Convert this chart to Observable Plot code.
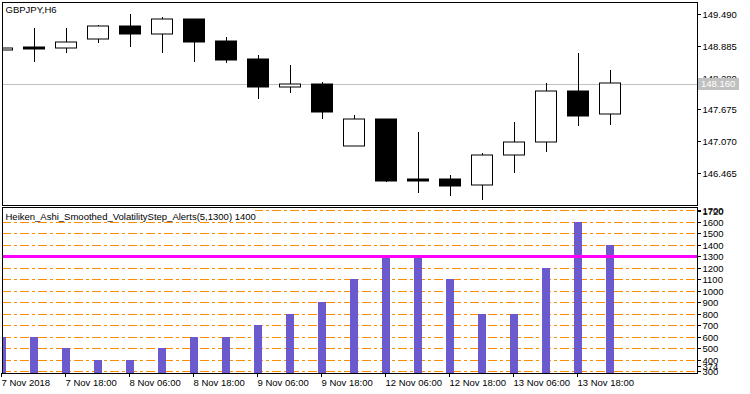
<!DOCTYPE html>
<html><head><meta charset="utf-8">
<script src="https://cdn.jsdelivr.net/npm/d3@7"></script>
<script src="https://cdn.jsdelivr.net/npm/@observablehq/plot@0.6"></script>
<style>
body{margin:0;background:#fff;}
#chart{position:relative;width:750px;height:394px;overflow:hidden;background:#fff;}
#chart svg{position:absolute;left:0;}
</style></head><body><div id="chart"></div>
<script>
// ---- data ----
const symbolTitle = "GBPJPY,H6";
const indicatorTitle = "Heiken_Ashi_Smoothed_VolatilityStep_Alerts(5,1300) 1400";
const barIndex = [0,1,2,3,4,5,6,7,8,9,10,11,12,13,14,15,16,17,18,19];
const haOpen  = [148.80,148.86,148.85,149.01,149.26,149.10,149.40,148.97,148.63,148.11,148.16,146.97,147.49,146.36,146.35,146.23,146.80,147.05,148.03,147.58];
const haHigh  = [148.86,149.22,149.22,149.28,149.49,149.44,149.40,149.05,148.71,148.52,148.20,147.57,147.49,147.25,146.43,146.85,147.43,148.18,148.74,148.43];
const haLow   = [148.79,148.58,148.75,148.94,148.87,148.75,148.58,148.55,147.87,147.99,147.49,146.97,146.30,146.08,146.03,145.95,146.47,146.87,147.35,147.38];
const haClose = [148.85,148.83,148.96,149.26,149.10,149.40,148.96,148.61,148.11,148.16,147.63,147.49,146.32,146.32,146.22,146.80,147.05,148.03,147.55,148.18];
const volatilityStep = [600,600,500,400,400,500,600,600,700,800,900,1100,1300,1300,1100,800,800,1200,1600,1400];
const timeTicks  = [0,2,4,6,8,10,12,14,16,18];
const timeLabels = ["7 Nov 2018","7 Nov 18:00","8 Nov 06:00","8 Nov 18:00","9 Nov 06:00","9 Nov 18:00","12 Nov 06:00","12 Nov 18:00","13 Nov 06:00","13 Nov 18:00"];
const priceTicks = [149.490,148.885,148.280,147.675,147.070,146.465];
const lastPrice = 148.160;
const levelTicks = [1700,1600,1500,1400,1300,1200,1100,1000,900,800,700,600,500,400,300];
const extremeTicks = [1720,374];
const signalLevel = 1300;

// ---- layout ----
const W = 750, mL = 2, mR = 53;
const xMax = (W - mL - mR) / 32;
const FONT = "font-family:'Liberation Sans',Arial,sans-serif;font-size:9.5px;background:transparent;overflow:visible;color:#000;";
const candles = barIndex.map((i, k) => ({i, open: haOpen[k], high: haHigh[k], low: haLow[k], close: haClose[k], up: haClose[k] >= haOpen[k]}));
const bars = barIndex.map((i, k) => ({i, v: volatilityStep[k]}));
const halfBody = 10.5 / 32, halfBar = 4 / 32;
const intFmt = d => String(d);

const pricePanel = Plot.plot({
  width: W, height: 206,
  marginLeft: mL, marginRight: mR, marginTop: 2, marginBottom: 1,
  style: FONT,
  x: {domain: [0, xMax], axis: null},
  y: {domain: [145.856, 149.718], axis: null, round: true},
  marks: [
    Plot.ruleY([lastPrice], {stroke: "#c0c0c0"}),
    Plot.ruleX(candles, {x: "i", y1: "low", y2: "high", stroke: "#000", clip: true}),
    Plot.rect(candles, {
      x1: d => d.i - halfBody, x2: d => d.i + halfBody,
      y1: d => Math.min(d.open, d.close), y2: d => Math.max(d.open, d.close),
      fill: d => d.up ? "#fff" : "#000", stroke: "#000", strokeWidth: 1, clip: true
    }),
    Plot.axisY(priceTicks, {anchor: "right", tickSize: 3, tickPadding: 2, tickFormat: d3.format(".3f"), label: null}),
    Plot.text([symbolTitle], {text: d => d, frameAnchor: "top-left", lineAnchor: "top", dx: 3, dy: 4, fill: "#000"}),
    Plot.frame({stroke: "#000"})
  ]
});

const indicatorPanel = Plot.plot({
  width: W, height: 188,
  marginLeft: mL, marginRight: mR, marginTop: 1, marginBottom: 21,
  style: FONT,
  x: {domain: [0, xMax], axis: null},
  y: {domain: [282.6, 1728.7], axis: null, round: true},
  marks: [
    Plot.ruleY(levelTicks.filter(v => v !== signalLevel), {stroke: "#ff8c00", strokeDasharray: "9,3,3,3"}),
    Plot.rect(bars, {x1: d => d.i - halfBar, x2: d => d.i + halfBar, y1: 0, y2: "v", fill: "#6a5acd", clip: true}),
    Plot.ruleY([signalLevel], {stroke: "#ff00ff", strokeWidth: 3}),
    Plot.axisY(levelTicks, {anchor: "right", tickSize: 3, tickPadding: 2, tickFormat: intFmt, label: null}),
    Plot.axisY(extremeTicks, {anchor: "right", tickSize: 3, tickPadding: 2, dy: 3, tickFormat: intFmt, label: null}),
    Plot.axisX(timeTicks, {anchor: "bottom", tickSize: 4, tickPadding: 2, textAnchor: "start", dx: -1,
      tickFormat: d => timeLabels[timeTicks.indexOf(d)], label: null}),
    Plot.text([indicatorTitle], {text: d => d, frameAnchor: "top-left", lineAnchor: "top", dx: 3, dy: 5.5, fill: "#000"}),
    Plot.frame({stroke: "#000"})
  ]
});

const chart = document.getElementById("chart");
pricePanel.style.top = "0px";
indicatorPanel.style.top = "206px";
chart.appendChild(pricePanel);
chart.appendChild(indicatorPanel);

// white backing box for indicator title
const titleNode = Array.from(indicatorPanel.querySelectorAll("text")).find(t => t.textContent === indicatorTitle);
if (titleNode) {
  const bb = titleNode.getBBox();
  d3.select(titleNode.parentNode).insert("rect", ":first-child")
    .attr("x", bb.x - 1).attr("y", bb.y).attr("width", bb.width + 2).attr("height", bb.height)
    .attr("fill", "#fff");
}

// last price label box on the right axis
const py = pricePanel.scale("y").apply(lastPrice);
const lx = W - mR + 1;
const lbl = d3.select(pricePanel).append("g").attr("text-anchor", "start");
lbl.append("rect").attr("x", lx).attr("y", py - 6).attr("width", 41).attr("height", 12).attr("fill", "#c0c0c0");
lbl.append("text").attr("x", lx + 3).attr("y", py).attr("dy", "0.35em").attr("fill", "#fff")
  .attr("text-anchor", "start")
  .attr("font-family", "'Liberation Sans',Arial,sans-serif").attr("font-size", "9.5px").text(d3.format(".3f")(lastPrice));
</script></body></html>
